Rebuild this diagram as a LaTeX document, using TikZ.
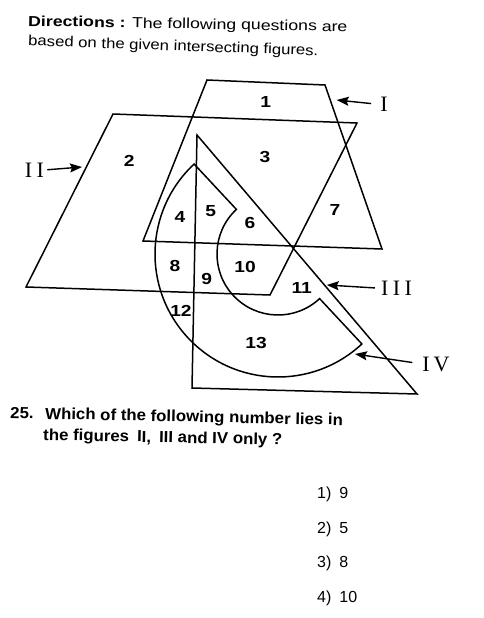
\documentclass[tikz,border=0pt]{standalone}
\usepackage{fontspec}
\setmainfont{Liberation Sans}
\newfontfamily\widesans[FakeStretch=1.22]{Liberation Sans}
\newfontfamily\midsans[FakeStretch=1.15]{Liberation Sans}
\newfontfamily\qsans[FakeStretch=1.05]{Liberation Sans}
\newfontfamily\numsans[FakeStretch=1.2]{Liberation Sans}
\newfontfamily\romanfont{Liberation Serif}
\usetikzlibrary{arrows.meta}
\begin{document}
\begin{tikzpicture}[x=1pt,y=-1pt,
  fig/.style={line width=1.5pt, line join=miter},
  num/.style={font=\numsans\fontsize{16}{16}\selectfont\bfseries, inner sep=0pt},
  rom/.style={font=\romanfont\fontsize{22}{22}\selectfont, inner sep=0pt},
  ptr/.style={line width=1.4pt, -{Stealth[length=12pt,width=9pt,inset=2pt]}},
  head/.style={anchor=base west, inner sep=0pt},
  quest/.style={font=\qsans\fontsize{16}{16}\selectfont\bfseries, anchor=base west, inner sep=0pt, rotate=-1.2},
  opt/.style={font=\fontsize{16}{16}\selectfont, anchor=base west, inner sep=0pt}]
\useasboundingbox (0,0) rectangle (483,618);
\fill[white] (0,0) rectangle (483,618);

% heading
\node[head, font=\widesans\fontsize{14.5}{14.5}\selectfont, rotate=-1.0] (h1) at (28,26) {\textbf{Directions :} The following questions are};
\node[head, font=\midsans\fontsize{14.5}{14.5}\selectfont, rotate=-2.0] (h2) at (28,45.5) {based on the given intersecting figures.};

% figure I
\draw[fig] (207,80) -- (325,85) -- (382,249) -- (143,241) -- cycle;
% figure II
\draw[fig] (113,114) -- (357,123) -- (270,295) -- (26,287) -- cycle;
% figure III
\draw[fig] (197,135) -- (417,394) -- (192,388) -- cycle;
% figure IV (half annulus, centre (278,254))
\draw[fig] (194.11,164.04) arc[start angle=227,end angle=47,radius=123]
  -- (319.60,298.61) arc[start angle=47,end angle=227,radius=61] -- cycle;

% region numbers
\node[num] (n1) at (265.7,101.7) {1};
\node[num] (n2) at (129.3,160.7) {2};
\node[num] (n3) at (265,157.3) {3};
\node[num] (n4) at (180,216.7) {4};
\node[num] (n5) at (210.7,210.7) {5};
\node[num] (n6) at (250,222.7) {6};
\node[num] (n7) at (335,210) {7};
\node[num] (n8) at (175,266) {8};
\node[num] (n9) at (206.7,279.3) {9};
\node[num] (n10) at (245,266.7) {10};
\node[num] (n11) at (301.7,288.3) {11};
\node[num] (n12) at (181,310.7) {12};
\node[num] (n13) at (256,342.7) {13};

% pointers
\node[rom] (lI) at (384,104.5) {I};
\coordinate (tI) at (336.7,100);
\draw[ptr, shorten <=9pt] (lI.west) -- (tI);
\node[rom] (lII) at (34.5,170) {I\kern4.5ptI};
\coordinate (tII) at (82,167);
\draw[ptr, shorten <=3pt] (lII.east) -- (tII);
\node[rom] (lIII) at (396.5,288.3) {I\kern4.5ptI\kern4.5ptI};
\coordinate (tIII) at (326.7,285);
\draw[ptr, shorten <=6pt] (lIII.west) -- (tIII);
\node[rom] (lIV) at (436,364) {I\kern4ptV};
\coordinate (tIV) at (355,354);
\draw[ptr, shorten <=10pt] (lIV.west) -- (tIV);

% question
\node[quest] (q0) at (10,418) {25.};
\node[quest] (q1) at (45,419) {Which of the following number lies in};
\node[quest] (q2) at (43,440) {the figures\enspace II,\enspace III and IV only ?};

% options
\node[opt] (o1) at (317,498) {1)\enspace 9};
\node[opt] (o2) at (317,533) {2)\enspace 5};
\node[opt] (o3) at (317,567) {3)\enspace 8};
\node[opt] (o4) at (317,602) {4)\enspace 10};
\end{tikzpicture}
\end{document}
